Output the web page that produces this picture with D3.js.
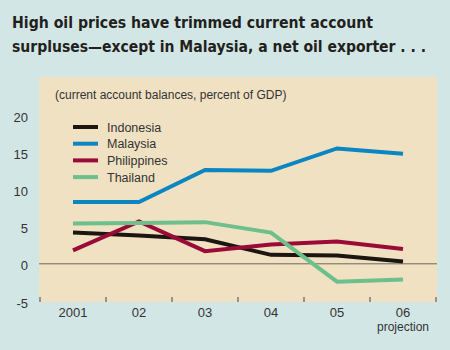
<!DOCTYPE html>
<html>
<head>
<meta charset="utf-8">
<script src="https://cdn.jsdelivr.net/npm/d3@7"></script>
<style>
  html, body { margin: 0; padding: 0; background: #d2e7e5; }
  svg { display: block; }
</style>
</head>
<body>
<script>
// Current account balances, percent of GDP
const years = ["2001", "02", "03", "04", "05", "06"];
const indonesia   = [4.2, 3.8, 3.3, 1.2, 1.1, 0.3];
const malaysia    = [8.3, 8.3, 12.6, 12.5, 15.5, 14.8];
const philippines = [1.8, 5.7, 1.7, 2.6, 3.0, 2.0];
const thailand    = [5.4, 5.5, 5.6, 4.2, -2.4, -2.1];
const yTicks = [-5, 0, 5, 10, 15, 20];

const seriesNames  = ["Indonesia", "Malaysia", "Philippines", "Thailand"];
const seriesValues = [indonesia, malaysia, philippines, thailand];
const colors = ["#1c1510", "#0a86c2", "#9a0b38", "#6dbf8b"];

const W = 450, H = 350;
const panel = { left: 39, right: 437, top: 77, bottom: 302 };

const svg = d3.select("body").append("svg")
  .attr("width", W).attr("height", H);

svg.append("rect").attr("width", W).attr("height", H).attr("fill", "#d2e7e5");

// Title, two lines, condensed bold
const titleFont = "'DejaVu Sans Condensed', 'Liberation Sans Narrow', sans-serif";
const titleLines = [
  { text: "High oil prices have trimmed current account", y: 28, len: 361 },
  { text: "surpluses\u2014except in Malaysia, a net oil exporter . . .", y: 52, len: 414 }
];
svg.append("g").selectAll("text").data(titleLines).join("text")
  .attr("x", 12).attr("y", d => d.y)
  .attr("font-family", titleFont)
  .attr("font-weight", "bold").attr("font-size", 16).attr("fill", "#231f20")
  .attr("textLength", d => d.len).attr("lengthAdjust", "spacingAndGlyphs")
  .text(d => d.text);

// Plot panel
svg.append("rect")
  .attr("x", panel.left).attr("y", panel.top)
  .attr("width", panel.right - panel.left).attr("height", panel.bottom - panel.top)
  .attr("fill", "#f0e1c2");

const x = d3.scaleBand().domain(years).range([40, 436]);
const y = d3.scaleLinear().domain([-5, 20]).range([301, 115]);
const xc = d => x(d) + x.bandwidth() / 2;

const font = "'Liberation Sans', Arial, sans-serif";

// Subtitle
svg.append("text")
  .attr("x", 55).attr("y", 99)
  .attr("font-family", font).attr("font-size", 12).attr("fill", "#333")
  .text("(current account balances, percent of GDP)");

// Y axis labels
const yAxis = d3.axisLeft(y).tickValues(yTicks).tickSize(0).tickPadding(0)
  .tickFormat(d => d < 0 ? "-" + Math.abs(d) : d);
const gy = svg.append("g").attr("transform", "translate(28,2)").call(yAxis);
gy.select(".domain").remove();
gy.selectAll("text").attr("font-family", font).attr("font-size", 13).attr("fill", "#333");

// X axis: tick marks at band edges inside the panel, labels centred in bands
const edges = years.map(d => x(d)).concat([x.range()[1]]);
svg.append("g").selectAll("line").data(edges).join("line")
  .attr("x1", d => d).attr("x2", d => d)
  .attr("y1", panel.bottom - 5).attr("y2", panel.bottom)
  .attr("stroke", "#444").attr("stroke-width", 1);

const xAxis = d3.axisBottom(x).tickSize(0).tickPadding(0);
const gx = svg.append("g").attr("transform", `translate(0,${panel.bottom + 6})`).call(xAxis);
gx.select(".domain").remove();
gx.selectAll("text").attr("font-family", font).attr("font-size", 13).attr("fill", "#333");

svg.append("text")
  .attr("x", xc("06")).attr("y", 331).attr("text-anchor", "middle")
  .attr("font-family", font).attr("font-size", 12).attr("fill", "#333")
  .text("projection");

// Zero line
svg.append("line")
  .attr("x1", panel.left).attr("x2", panel.right)
  .attr("y1", y(0)).attr("y2", y(0))
  .attr("stroke", "#6d6a60").attr("stroke-width", 1);

// Series lines
const line = d3.line().x((d, i) => xc(years[i])).y(d => y(d));
svg.append("g").selectAll("path").data(seriesValues).join("path")
  .attr("d", line)
  .attr("fill", "none")
  .attr("stroke", (d, i) => colors[i])
  .attr("stroke-width", 4)
  .attr("stroke-linejoin", "miter");

// Legend
const legend = svg.append("g").selectAll("g").data(seriesNames).join("g")
  .attr("transform", (d, i) => `translate(73,${127 + i * 16.7})`);
legend.append("line")
  .attr("x1", 0).attr("x2", 25).attr("y1", 0).attr("y2", 0)
  .attr("stroke", (d, i) => colors[i]).attr("stroke-width", 4);
legend.append("text")
  .attr("x", 34).attr("y", 4.5)
  .attr("font-family", font).attr("font-size", 12.5).attr("fill", "#333")
  .text(d => d);
</script>
</body>
</html>
